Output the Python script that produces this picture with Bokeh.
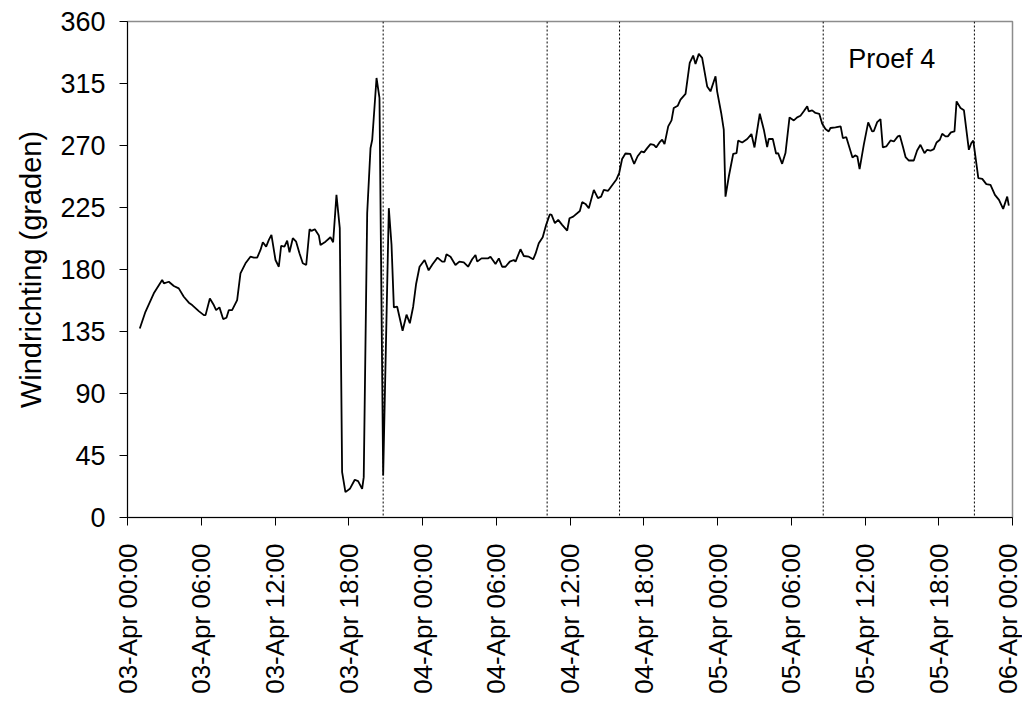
import numpy as np
import pandas as pd
from bokeh.plotting import figure
from bokeh.models import Range1d, FixedTicker, DatetimeTickFormatter, Span, Label
from bokeh.embed import file_html
from bokeh.resources import INLINE

# hours after 03-Apr 00:00
hours = [
    1.00, 1.46, 2.14, 2.82, 2.96, 3.36, 3.77, 4.17, 4.58, 4.99, 5.26, 5.80, 6.21, 6.35,
    6.70, 7.02, 7.21, 7.48, 7.78, 8.05, 8.24, 8.51, 8.92, 9.19, 9.60, 10.00, 10.28, 10.55,
    10.82, 11.01, 11.28, 11.50, 11.71, 12.04, 12.31, 12.50, 12.77, 12.99, 13.18, 13.45,
    13.72, 13.99, 14.26, 14.54, 14.81, 14.97, 15.24, 15.57, 15.70, 16.11, 16.51, 16.73,
    17.00, 17.27, 17.46, 17.73, 18.09, 18.49, 18.76, 19.09, 19.22, 19.50, 19.77, 19.91,
    20.26, 20.50, 20.80, 21.26, 21.48, 21.67, 21.94, 22.38, 22.70, 22.97, 23.24, 23.48,
    23.76, 24.17, 24.50, 24.83, 25.22, 25.60, 25.79, 25.95, 26.28, 26.68, 27.00, 27.36,
    27.71, 28.04, 28.31, 28.45, 28.80, 29.35, 29.53, 29.94, 30.21, 30.48, 30.75, 31.10,
    31.43, 31.57, 31.97, 32.24, 32.65, 33.00, 33.19, 33.46, 33.78, 34.06, 34.36, 34.50,
    34.77, 35.04, 35.36, 35.77, 35.96, 36.26, 36.80, 36.99, 37.26, 37.53, 37.94, 38.27,
    38.53, 38.75, 39.10, 39.43, 39.76, 40.00, 40.24, 40.51, 40.90, 41.22, 41.50, 41.80,
    42.02, 42.28, 42.55, 42.82, 43.01, 43.28, 43.50, 43.69, 43.99, 44.26, 44.44, 44.77,
    44.99, 45.40, 45.74, 46.02, 46.21, 46.48, 46.75, 47.16, 47.43, 47.84, 47.97, 48.30,
    48.51, 48.65, 48.92, 49.28, 49.55, 49.68, 50.01, 50.42, 50.76, 51.01, 51.44, 51.77,
    52.04, 52.17, 52.50, 52.77, 52.93, 53.26, 53.53, 53.86, 54.21, 54.48, 54.75, 55.02,
    55.30, 55.42, 55.70, 55.97, 56.28, 56.51, 56.78, 57.05, 57.19, 57.60, 58.02, 58.20,
    58.48, 58.98, 59.20, 59.38, 59.56, 59.90, 60.26, 60.58, 60.72, 60.99, 61.26, 61.45,
    61.73, 62.08, 62.35, 62.67, 62.84, 63.08, 63.30, 63.57, 63.97, 64.24, 64.51, 64.84,
    65.06, 65.33, 65.60, 65.82, 66.09, 66.28, 66.55, 66.74, 66.99, 67.28, 67.45, 67.77,
    68.05, 68.45, 68.65, 68.81, 69.22, 69.54, 69.87, 70.21, 70.57, 70.90, 71.24, 71.57,
    71.70,
]

direction = [
    137.2, 149.3, 162.7, 172.4, 170.0, 171.1, 168.0, 166.3, 160.2, 155.9, 154.2, 149.8, 146.9, 146.9,
    159.0, 154.2, 150.5, 152.5, 144.0, 145.0, 150.5, 150.5, 157.8, 177.2, 184.5, 189.3, 188.6, 188.6,
    194.2, 199.8, 196.6, 201.5, 205.1, 186.9, 182.0, 197.1, 196.6, 201.0, 192.5, 202.7,
    200.2, 191.8, 184.5, 183.3, 209.2, 208.0, 209.2, 204.6, 197.8, 200.2, 203.4, 199.8,
    234.2, 210.0, 33.0, 18.4, 20.8, 27.4, 26.4, 20.8, 29.3, 220.8, 268.1, 274.2,
    319.0, 304.5, 30.5, 224.5, 198.0, 152.5, 153.0, 135.5, 147.2, 141.0, 153.0, 169.5,
    182.0, 186.9, 179.4, 184.0, 188.6, 185.7, 185.7, 191.0, 189.3, 183.3, 185.7, 185.2,
    182.0, 187.4, 190.5, 185.7, 188.1, 188.1, 189.3, 184.0, 188.1, 182.0, 182.0, 185.7,
    186.9, 185.7, 194.7, 189.8, 189.3, 187.4, 191.3, 199.0, 203.4, 212.4, 220.1, 219.6,
    213.6, 216.0, 212.4, 208.2, 217.2, 218.4, 222.5, 228.9, 227.6, 224.5, 237.8, 231.8,
    232.9, 237.8, 237.1, 241.2, 245.1, 250.0, 260.2, 264.2, 263.9, 256.6, 262.2, 265.7,
    265.0, 268.1, 271.0, 270.5, 268.6, 272.2, 274.2, 271.0, 283.9, 288.2, 297.2, 298.9,
    303.3, 307.4, 330.0, 335.3, 329.2, 336.5, 333.6, 312.9, 309.3, 320.2, 309.3, 293.6,
    281.5, 232.9, 247.5, 264.0, 264.5, 273.5, 272.2, 274.7, 278.3, 268.6, 293.1, 281.5,
    268.9, 274.7, 274.7, 264.0, 264.5, 256.7, 264.5, 290.4, 288.2, 290.4, 291.6, 294.8,
    298.4, 294.8, 295.5, 293.6, 293.0, 286.0, 282.0, 280.2, 282.7, 283.1, 283.9, 275.4,
    276.0, 261.3, 262.8, 262.0, 252.9, 270.5, 286.8, 280.2, 280.5, 287.0, 289.2, 268.6,
    269.3, 273.7, 272.9, 276.6, 277.1, 269.3, 261.6, 259.1, 259.1, 266.4, 270.5, 264.5,
    266.9, 266.2, 267.4, 272.2, 274.2, 278.5, 276.6, 276.6, 279.5, 280.2, 302.0, 297.2,
    295.5, 266.9, 271.8, 273.5, 246.3, 245.8, 242.0, 241.5, 234.2, 230.5, 224.0, 232.9,
    226.4,
]

marker_hours = [20.80, 34.14, 40.03, 56.60, 68.90]
x_tick_hours = list(range(0, 73, 6))
y_ticks = [0, 45, 90, 135, 180, 225, 270, 315, 360]
annotation = "Proef 4"
y_label = "Windrichting (graden)"

FONT = "Liberation Sans"
FS = "27px"

base = pd.Timestamp("2000-04-03 00:00")


def ms(h):
    return (base + pd.Timedelta(hours=h)).value / 1e6


t = [ms(h) for h in hours]

p = figure(
    width=1022, height=704,
    x_axis_type="datetime",
    x_range=Range1d(ms(0), ms(72)),
    y_range=Range1d(0, 360),
    output_backend="svg",
    toolbar_location=None,
    min_border_left=127, min_border_right=10,
    min_border_top=21, min_border_bottom=187,
)
p.background_fill_color = "white"
p.border_fill_color = "white"
p.outline_line_color = "#8c8c8c"
p.outline_line_width = 1.5
p.xgrid.visible = False
p.ygrid.visible = False

p.line(t, direction, color="black", line_width=1.8)

for h in marker_hours:
    p.add_layout(Span(location=ms(h), dimension="height", line_color="black",
                      line_width=1, line_dash="2 2"))

p.add_layout(Label(x=ms(58.63), y=333, text=annotation, text_font=FONT,
                   text_font_size=FS, text_color="black", text_baseline="alphabetic"))

p.xaxis.ticker = FixedTicker(ticks=[ms(h) for h in x_tick_hours])
fmt = "%d-%b %H:%M"
p.xaxis.formatter = DatetimeTickFormatter(hours=fmt, hourmin=fmt, days=fmt, minutes=fmt,
                                          minsec=fmt, months=fmt, years=fmt)
p.xaxis.major_label_orientation = np.pi / 2
p.yaxis.ticker = FixedTicker(ticks=y_ticks)
p.yaxis.axis_label = y_label

for ax in (p.xaxis, p.yaxis):
    ax.axis_line_color = "black"
    ax.axis_line_width = 1
    ax.major_tick_line_color = "black"
    ax.major_tick_in = 0
    ax.major_tick_out = 8
    ax.minor_tick_line_color = None
    ax.major_label_text_font = FONT
    ax.major_label_text_font_size = FS
    ax.major_label_text_color = "black"
    ax.major_label_standoff = 14
    ax.axis_label_text_font = FONT
    ax.axis_label_text_font_style = "normal"
    ax.axis_label_text_color = "black"
    ax.axis_label_standoff = 10

p.xaxis.major_label_text_font_size = "26px"
p.xaxis.major_label_standoff = 18
p.yaxis.axis_label_text_font_size = "29px"

open("out.html", "w").write(file_html(p, INLINE))
